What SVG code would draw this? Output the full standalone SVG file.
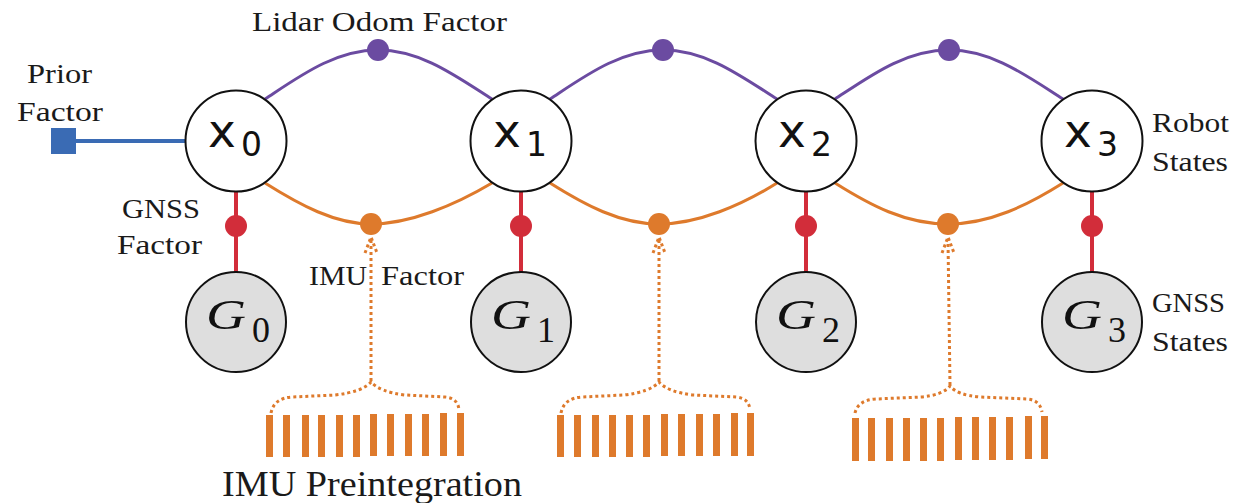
<svg xmlns="http://www.w3.org/2000/svg" width="1233" height="503" viewBox="0 0 1233 503">
  <style>
    .lbl { font-family: "Liberation Serif", "Times New Roman", serif; font-size: 27px; fill: #1a1a1a; }
    .big { font-size: 35px; }
    .state { fill: #ffffff; stroke: #111111; stroke-width: 2; }
    .gnss { fill: #dedede; stroke: #111111; stroke-width: 2; }
    .xv { font-family: "DejaVu Sans", sans-serif; font-size: 47px; fill: #111111; }
    .xs { font-family: "DejaVu Sans", sans-serif; font-size: 33px; fill: #111111; }
    .gv { font-family: "Liberation Serif", serif; font-style: italic; font-size: 43px; fill: #111111; }
    .gs { font-family: "Liberation Serif", serif; font-size: 36px; fill: #111111; }
    .lidar { fill: none; stroke: #6b4ba1; stroke-width: 3; }
    .imu { fill: none; stroke: #de7a2c; stroke-width: 3; }
    .gps { stroke: #d22d3a; stroke-width: 4; }
    .prior { stroke: #3a6bb4; stroke-width: 4; }
    .dot-l { fill: #6b4ba1; }
    .dot-i { fill: #de7a2c; }
    .dot-g { fill: #d22d3a; }
    .dotted { fill: none; stroke: #de7a2c; stroke-width: 3; stroke-dasharray: 3 3; }
    .bar { fill: #de7a2c; }
  </style>

  <!-- factor connectors -->
  <g id="connectors">
    <!-- prior -->
    <line class="prior" x1="76" y1="141" x2="185" y2="141"/>
    <rect x="51" y="128" width="25" height="26" fill="#3a6bb4"/>

    <!-- lidar odometry between consecutive states -->
    <path class="lidar" d="M 265 99 C 300 76, 335 50, 378 50 C 421 50, 456 76, 492 99"/>
    <path class="lidar" d="M 550 99 C 585 76, 620 50, 663 50 C 706 50, 741 76, 777 99"/>
    <path class="lidar" d="M 835 99 C 870 76, 905 50, 949 50 C 992 50, 1027 76, 1063 99"/>
    <circle class="dot-l" cx="378" cy="50" r="11"/>
    <circle class="dot-l" cx="663" cy="50" r="11"/>
    <circle class="dot-l" cx="949" cy="50" r="11"/>

    <!-- IMU factors between consecutive states -->
    <path class="imu" d="M 265 183 C 300 205, 335 224, 371 224 C 410 224, 455 205, 492 183"/>
    <path class="imu" d="M 550 183 C 585 205, 620 224, 659 224 C 698 224, 742 205, 777 183"/>
    <path class="imu" d="M 835 183 C 870 205, 905 224, 948 224 C 990 224, 1028 205, 1063 183"/>
    <circle class="dot-i" cx="371" cy="224" r="11"/>
    <circle class="dot-i" cx="659" cy="224" r="11"/>
    <circle class="dot-i" cx="948" cy="224" r="11"/>

    <!-- GNSS factors -->
    <line class="gps" x1="236" y1="191" x2="236" y2="272"/>
    <line class="gps" x1="521" y1="191" x2="521" y2="272"/>
    <line class="gps" x1="806" y1="191" x2="806" y2="272"/>
    <line class="gps" x1="1092" y1="191" x2="1092" y2="272"/>
    <circle class="dot-g" cx="236" cy="226" r="11"/>
    <circle class="dot-g" cx="521" cy="226" r="11"/>
    <circle class="dot-g" cx="806" cy="226" r="11"/>
    <circle class="dot-g" cx="1092" cy="226" r="11"/>

    <!-- preintegration arrows -->
    <line class="dotted" x1="371" y1="381" x2="371" y2="240"/>
    <path class="dotted" d="M 365 253 L 371 237 L 377 253"/>
    <line class="dotted" x1="659" y1="381" x2="659" y2="240"/>
    <path class="dotted" d="M 653 253 L 659 237 L 665 253"/>
    <line class="dotted" x1="950" y1="385" x2="948" y2="240"/>
    <path class="dotted" d="M 942 253 L 948 237 L 954 253"/>

    <!-- braces -->
    <path class="dotted" d="M 271 413 Q 274 398, 292 397 L 335 395 Q 362 392, 371 382 Q 380 392, 405 395 L 445 397 Q 458 398, 459 410"/>
    <path class="dotted" d="M 561 413 Q 564 398, 582 397 L 624 395 Q 650 392, 659 382 Q 668 392, 693 395 L 736 397 Q 749 398, 750 410"/>
    <path class="dotted" d="M 855 413 Q 858 400, 876 399 L 921 397 Q 943 395, 950 386 Q 957 395, 980 397 L 1027 399 Q 1040 400, 1042 412"/>
  </g>

  <!-- IMU measurement bars -->
  <g id="imu-bars-0">
    <rect class="bar" x="266" y="415" width="7" height="42"/>
    <rect class="bar" x="283" y="415" width="7" height="42"/>
    <rect class="bar" x="302" y="415" width="7" height="42"/>
    <rect class="bar" x="318" y="415" width="7" height="42"/>
    <rect class="bar" x="336" y="415" width="7" height="42"/>
    <rect class="bar" x="353" y="415" width="7" height="42"/>
    <rect class="bar" x="370" y="414" width="7" height="42"/>
    <rect class="bar" x="387" y="414" width="7" height="42"/>
    <rect class="bar" x="405" y="414" width="7" height="42"/>
    <rect class="bar" x="422" y="414" width="7" height="42"/>
    <rect class="bar" x="440" y="413" width="7" height="43"/>
    <rect class="bar" x="457" y="413" width="7" height="43"/>
  </g>
  <g id="imu-bars-1">
    <rect class="bar" x="557" y="415" width="7" height="42"/>
    <rect class="bar" x="574" y="415" width="7" height="42"/>
    <rect class="bar" x="592" y="415" width="7" height="42"/>
    <rect class="bar" x="609" y="415" width="7" height="42"/>
    <rect class="bar" x="626" y="415" width="7" height="42"/>
    <rect class="bar" x="643" y="415" width="7" height="42"/>
    <rect class="bar" x="661" y="414" width="7" height="42"/>
    <rect class="bar" x="678" y="414" width="7" height="42"/>
    <rect class="bar" x="696" y="414" width="7" height="42"/>
    <rect class="bar" x="713" y="414" width="7" height="42"/>
    <rect class="bar" x="731" y="413" width="7" height="43"/>
    <rect class="bar" x="747" y="413" width="7" height="43"/>
  </g>
  <g id="imu-bars-2">
    <rect class="bar" x="852" y="418" width="7" height="43"/>
    <rect class="bar" x="868" y="418" width="7" height="43"/>
    <rect class="bar" x="886" y="418" width="7" height="43"/>
    <rect class="bar" x="903" y="418" width="7" height="43"/>
    <rect class="bar" x="920" y="418" width="7" height="43"/>
    <rect class="bar" x="937" y="418" width="7" height="43"/>
    <rect class="bar" x="955" y="417" width="7" height="43"/>
    <rect class="bar" x="972" y="417" width="7" height="43"/>
    <rect class="bar" x="989" y="417" width="7" height="43"/>
    <rect class="bar" x="1006" y="417" width="7" height="43"/>
    <rect class="bar" x="1025" y="416" width="7" height="43"/>
    <rect class="bar" x="1041" y="416" width="7" height="43"/>
  </g>

  <!-- robot states -->
  <g id="x0">
    <circle class="state" cx="236" cy="141" r="50.5"/>
    <text class="xv" x="208" y="147">x</text><text class="xs" x="241" y="156">0</text>
  </g>
  <g id="x1">
    <circle class="state" cx="521" cy="141" r="50.5"/>
    <text class="xv" x="493" y="147">x</text><text class="xs" x="526" y="156">1</text>
  </g>
  <g id="x2">
    <circle class="state" cx="806" cy="141" r="50.5"/>
    <text class="xv" x="778" y="147">x</text><text class="xs" x="811" y="156">2</text>
  </g>
  <g id="x3">
    <circle class="state" cx="1092" cy="141" r="50.5"/>
    <text class="xv" x="1064" y="147">x</text><text class="xs" x="1097" y="156">3</text>
  </g>

  <!-- GNSS states -->
  <g id="g0">
    <circle class="gnss" cx="236" cy="322" r="50"/>
    <text class="gv" x="206" y="329" textLength="40" lengthAdjust="spacingAndGlyphs">G</text><text class="gs" x="252" y="342">0</text>
  </g>
  <g id="g1">
    <circle class="gnss" cx="521" cy="322" r="50"/>
    <text class="gv" x="491" y="329" textLength="40" lengthAdjust="spacingAndGlyphs">G</text><text class="gs" x="537" y="342">1</text>
  </g>
  <g id="g2">
    <circle class="gnss" cx="806" cy="322" r="50"/>
    <text class="gv" x="776" y="329" textLength="40" lengthAdjust="spacingAndGlyphs">G</text><text class="gs" x="822" y="342">2</text>
  </g>
  <g id="g3">
    <circle class="gnss" cx="1092" cy="322" r="50"/>
    <text class="gv" x="1062" y="329" textLength="40" lengthAdjust="spacingAndGlyphs">G</text><text class="gs" x="1108" y="342">3</text>
  </g>

  <!-- labels -->
  <g id="labels">
    <text class="lbl" x="27" y="83" textLength="65" lengthAdjust="spacingAndGlyphs">Prior</text>
    <text class="lbl" x="17" y="121" textLength="86" lengthAdjust="spacingAndGlyphs">Factor</text>
    <text class="lbl" x="252" y="31" textLength="255" lengthAdjust="spacingAndGlyphs">Lidar Odom Factor</text>
    <text class="lbl" x="122" y="218" textLength="78" lengthAdjust="spacingAndGlyphs">GNSS</text>
    <text class="lbl" x="117" y="254" textLength="85" lengthAdjust="spacingAndGlyphs">Factor</text>
    <text class="lbl" x="309" y="285" textLength="58" lengthAdjust="spacingAndGlyphs">IMU</text>
    <text class="lbl" x="381" y="285" textLength="83" lengthAdjust="spacingAndGlyphs">Factor</text>
    <text class="lbl" x="1152" y="132" textLength="77" lengthAdjust="spacingAndGlyphs">Robot</text>
    <text class="lbl" x="1152" y="171" textLength="76" lengthAdjust="spacingAndGlyphs">States</text>
    <text class="lbl" x="1152" y="312" textLength="73" lengthAdjust="spacingAndGlyphs">GNSS</text>
    <text class="lbl" x="1152" y="351" textLength="76" lengthAdjust="spacingAndGlyphs">States</text>
    <text class="lbl big" x="222" y="496" textLength="300" lengthAdjust="spacingAndGlyphs">IMU Preintegration</text>
  </g>
</svg>
